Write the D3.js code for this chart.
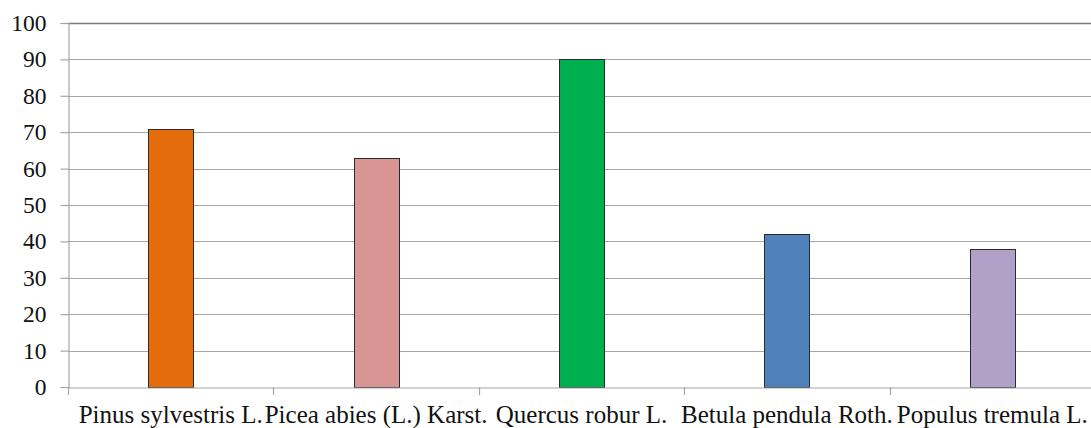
<!DOCTYPE html>
<html>
<head>
<meta charset="utf-8">
<script src="https://cdn.jsdelivr.net/npm/d3@7"></script>
<style>
  body { margin: 0; background: #fff; }
  svg text { font-family: Liberation Serif, Times New Roman, serif; }
</style>
</head>
<body>
<div id="chart"></div>
<script>
// data
const species = ['Pinus sylvestris L.', 'Picea abies (L.) Karst.', 'Quercus robur L.', 'Betula pendula Roth.', 'Populus tremula L.'];
const values = [71, 63, 90, 42, 38];
const barColors = ['#E46C0A', '#D99594', '#00B050', '#4F81BD', '#B1A0C7'];
const yTicks = [0, 10, 20, 30, 40, 50, 60, 70, 80, 90, 100];

const width = 1091;
const height = 428;
const margin = { top: 23, right: -4, bottom: 41, left: 68 };

const svg = d3.select('#chart')
    .append('svg')
    .attr('width', width)
    .attr('height', height);

const x = d3.scaleBand()
    .domain(species)
    .range([margin.left, width - margin.right])
    .paddingInner(0)
    .paddingOuter(0);

const y = d3.scaleLinear()
    .domain([0, 100])
    .range([height - margin.bottom, margin.top]);

// gridlines
svg.append('g')
    .selectAll('line')
    .data(yTicks.filter(d => d > 0))
    .join('line')
    .attr('x1', margin.left)
    .attr('x2', width)
    .attr('y1', d => Math.round(y(d)) + 0.5)
    .attr('y2', d => Math.round(y(d)) + 0.5)
    .attr('stroke', d => d === 100 ? '#7a7a7a' : '#a6a6a6')
    .attr('stroke-width', d => d === 100 ? 1.6 : 1.2);

// y axis
const yAxis = svg.append('g')
    .attr('transform', `translate(${margin.left + 0.5},0)`)
    .call(d3.axisLeft(y).tickValues(yTicks).tickSize(8).tickPadding(14))
    .attr('font-family', null);
yAxis.select('.domain').attr('stroke', '#a6a6a6').attr('stroke-width', 1.2);
yAxis.selectAll('.tick line').attr('stroke', '#a6a6a6').attr('stroke-width', 1.2);
yAxis.selectAll('.tick text')
    .style('font-size', '23.5px')
    .attr('fill', '#111');

// bars
const barWidth = 45;
svg.append('g')
    .selectAll('rect')
    .data(values)
    .join('rect')
    .attr('x', (d, i) => Math.round(x(species[i]) + x.bandwidth() / 2 - barWidth / 2) + 0.5)
    .attr('y', d => Math.round(y(d)) + 0.5)
    .attr('width', barWidth)
    .attr('height', d => Math.round(y(0)) - Math.round(y(d)))
    .attr('fill', (d, i) => barColors[i])
    .attr('stroke', '#2b2b2b')
    .attr('stroke-width', 1);

// x axis
const xAxis = svg.append('g')
    .attr('transform', `translate(0,${Math.round(y(0)) + 0.5})`)
    .call(d3.axisBottom(x).tickSize(0).tickPadding(18))
    .attr('font-family', null);
xAxis.select('.domain').attr('stroke', '#a6a6a6').attr('stroke-width', 1.2);
xAxis.selectAll('.tick text')
    .style('font-size', '25px')
    .attr('fill', '#111');

// category boundary ticks
svg.append('g')
    .selectAll('line')
    .data(species)
    .join('line')
    .attr('x1', d => Math.round(x(d)) + 0.5)
    .attr('x2', d => Math.round(x(d)) + 0.5)
    .attr('y1', Math.round(y(0)))
    .attr('y2', Math.round(y(0)) + 8)
    .attr('stroke', '#a6a6a6')
    .attr('stroke-width', 1.2);
</script>
</body>
</html>
